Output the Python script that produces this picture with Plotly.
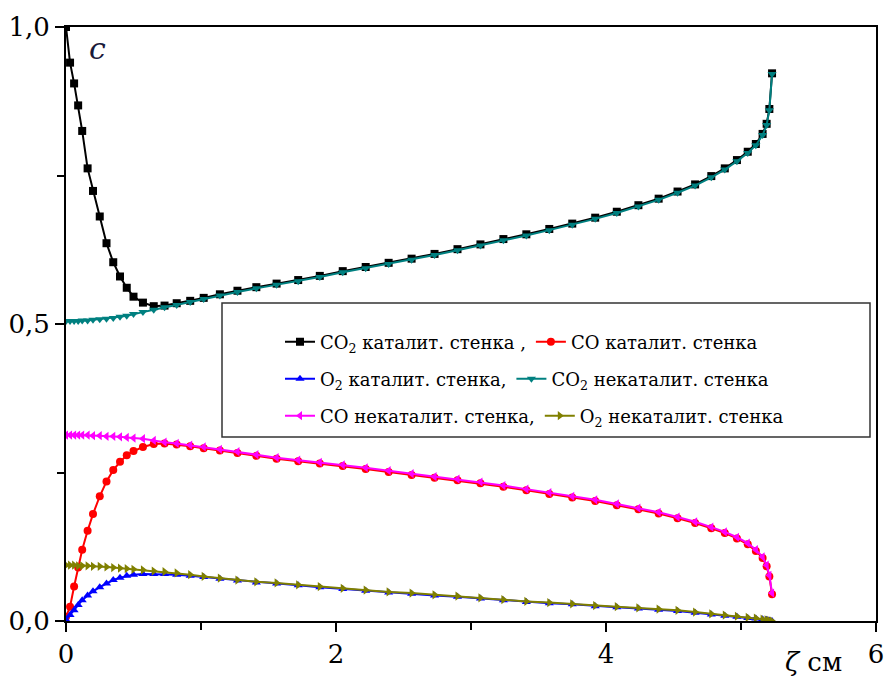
import plotly.graph_objects as go

# common zeta grid (cm)
zeta = [0, 0.03, 0.06, 0.09, 0.12, 0.16, 0.2, 0.25, 0.3, 0.35,
        0.4, 0.45, 0.5, 0.57, 0.65, 0.73, 0.82, 0.92, 1.02, 1.14,
        1.27, 1.41, 1.56, 1.72, 1.88, 2.05, 2.22, 2.39, 2.56, 2.73,
        2.9, 3.07, 3.24, 3.41, 3.58, 3.75, 3.92, 4.08, 4.24, 4.39,
        4.53, 4.66, 4.78, 4.88, 4.97, 5.05, 5.11, 5.16, 5.19, 5.21, 5.23]

co2_cat = [1.0, 0.94, 0.905, 0.868, 0.825, 0.762, 0.724, 0.681, 0.636, 0.604,
           0.58, 0.561, 0.546, 0.536, 0.53, 0.531, 0.535, 0.539, 0.544, 0.55,
           0.556, 0.562, 0.568, 0.574, 0.581, 0.589, 0.596, 0.603, 0.61, 0.618,
           0.626, 0.634, 0.643, 0.651, 0.66, 0.669, 0.679, 0.689, 0.7, 0.711,
           0.723, 0.735, 0.749, 0.762, 0.776, 0.79, 0.803, 0.82, 0.837, 0.862, 0.922]

co_cat = [0.007, 0.024, 0.058, 0.09, 0.12, 0.152, 0.18, 0.21, 0.235, 0.254,
          0.268, 0.279, 0.286, 0.293, 0.298, 0.299, 0.297, 0.294, 0.291, 0.287,
          0.283, 0.278, 0.273, 0.269, 0.265, 0.261, 0.256, 0.251, 0.246, 0.241,
          0.237, 0.232, 0.226, 0.22, 0.214, 0.208, 0.202, 0.195, 0.188, 0.181,
          0.173, 0.165, 0.156, 0.148, 0.139, 0.129, 0.118, 0.106, 0.092, 0.075, 0.045]

o2_cat = [0.002, 0.01, 0.018, 0.027, 0.035, 0.043, 0.05, 0.057, 0.063, 0.069,
          0.073, 0.076, 0.078, 0.079, 0.079, 0.079, 0.078, 0.076, 0.074, 0.071,
          0.068, 0.065, 0.063, 0.06, 0.057, 0.054, 0.051, 0.048, 0.046, 0.043,
          0.041, 0.038, 0.035, 0.032, 0.03, 0.028, 0.025, 0.023, 0.021, 0.019,
          0.017, 0.014, 0.011, 0.009, 0.007, 0.005, 0.004, 0.003, 0.002, 0.001, 0.0]

co2_noncat = [0.505, 0.505, 0.505, 0.505, 0.506, 0.506, 0.507, 0.508, 0.509, 0.51,
              0.512, 0.514, 0.517, 0.52, 0.524, 0.528, 0.532, 0.537, 0.542, 0.548,
              0.554, 0.56, 0.566, 0.572, 0.579, 0.587, 0.594, 0.601, 0.608, 0.616,
              0.624, 0.632, 0.641, 0.649, 0.658, 0.667, 0.677, 0.687, 0.698, 0.709,
              0.721, 0.733, 0.747, 0.76, 0.774, 0.788, 0.801, 0.818, 0.835, 0.86, 0.921]

co_noncat = [0.313, 0.313, 0.313, 0.313, 0.313, 0.313, 0.312, 0.312, 0.311, 0.311,
             0.31, 0.309, 0.308, 0.307, 0.304, 0.301, 0.299, 0.296, 0.293, 0.289,
             0.285, 0.28, 0.275, 0.271, 0.267, 0.263, 0.258, 0.253, 0.248, 0.243,
             0.239, 0.234, 0.228, 0.222, 0.216, 0.21, 0.204, 0.197, 0.19, 0.183,
             0.175, 0.167, 0.158, 0.15, 0.141, 0.131, 0.12, 0.108, 0.094, 0.077, 0.047]

o2_noncat = [0.094, 0.094, 0.094, 0.093, 0.093, 0.093, 0.092, 0.092, 0.091, 0.09,
             0.089, 0.088, 0.087, 0.086, 0.084, 0.083, 0.081, 0.078, 0.075, 0.072,
             0.069, 0.066, 0.064, 0.061, 0.058, 0.055, 0.052, 0.049, 0.047, 0.044,
             0.042, 0.039, 0.036, 0.033, 0.031, 0.029, 0.026, 0.024, 0.022, 0.02,
             0.018, 0.015, 0.012, 0.01, 0.008, 0.006, 0.005, 0.003, 0.002, 0.001, 0.0]

series = [
    ("CO<sub>2</sub> каталит. стенка ,", co2_cat, "#000000", "square", "legend"),
    ("CO каталит. стенка", co_cat, "#FF0000", "circle", "legend"),
    ("O<sub>2</sub> каталит. стенка,", o2_cat, "#0000FF", "triangle-up", "legend2"),
    ("CO<sub>2</sub> некаталит. стенка", co2_noncat, "#008080", "triangle-down", "legend2"),
    ("CO некаталит. стенка,", co_noncat, "#FF00FF", "triangle-left", "legend3"),
    ("O<sub>2</sub> некаталит. стенка", o2_noncat, "#808000", "triangle-right", "legend3"),
]

SERIF = "DejaVu Serif"

fig = go.Figure()
for name, vals, col, sym, lg in series:
    fig.add_trace(go.Scatter(
        x=zeta, y=vals, name=name, mode="lines+markers",
        line=dict(color=col, width=2),
        marker=dict(symbol=sym, size=8, color=col),
        legend=lg, hoverinfo="skip"))

W, H = 887, 680
L, R, T, B = 66, 11, 27, 59
pw, ph = W - L - R, H - T - B

def px(xp):
    return (xp - L) / pw

def py(yp):
    return (H - B - yp) / ph

leg_common = dict(orientation="h", bgcolor="rgba(0,0,0,0)", borderwidth=0,
                  font=dict(family=SERIF, size=18, color="#000000"),
                  xanchor="left", yanchor="middle", itemwidth=30,
                  traceorder="normal")

fig.update_layout(
    width=W, height=H,
    margin=dict(l=L, r=R, t=T, b=B, autoexpand=False),
    paper_bgcolor="white", plot_bgcolor="white",
    separators=", ",
    showlegend=True,
    legend=dict(x=px(280), y=py(342), **leg_common),
    legend2=dict(x=px(280), y=py(379), **leg_common),
    legend3=dict(x=px(280), y=py(416), **leg_common),
    font=dict(family=SERIF, color="#000000", size=18),
    xaxis=dict(range=[0, 6], tickvals=[0, 2, 4, 6], ticktext=["0", "2", "4", "6"],
               automargin=False,
               showgrid=False, zeroline=False, showline=True, linecolor="black",
               linewidth=2, mirror=True, ticks="outside", ticklen=9, tickwidth=2,
               tickcolor="black", tickfont=dict(family=SERIF, size=26),
               minor=dict(tickvals=[1, 3, 5], ticks="outside", ticklen=7,
                          tickwidth=2, tickcolor="black", showgrid=False)),
    yaxis=dict(range=[0, 1.0], tickvals=[0, 0.5, 1.0], tickformat=".1f",
               automargin=False,
               showgrid=False, zeroline=False, showline=True, linecolor="black",
               linewidth=2, mirror=True, ticks="outside", ticklen=9, tickwidth=2,
               tickcolor="black", tickfont=dict(family=SERIF, size=26),
               minor=dict(tickvals=[0.25, 0.75], ticks="outside", ticklen=7,
                          tickwidth=2, tickcolor="black", showgrid=False)),
    shapes=[dict(type="rect", xref="paper", yref="paper",
                 x0=px(222), x1=px(870), y0=py(437), y1=py(303),
                 line=dict(color="#333333", width=1.5), fillcolor="white", layer="below")],
    annotations=[
        dict(text="<i>c</i>", xref="paper", yref="paper", x=px(97), y=py(48),
             xanchor="center", yanchor="middle",
             showarrow=False, font=dict(family=SERIF, size=30, color="#1a1a3a")),
        dict(text="<i>ζ</i> см", xref="paper", yref="paper", x=px(813), y=py(662),
             xanchor="center", yanchor="middle",
             showarrow=False, font=dict(family=SERIF, size=26, color="#000000")),
    ],
)

fig.write_html("out.html")
